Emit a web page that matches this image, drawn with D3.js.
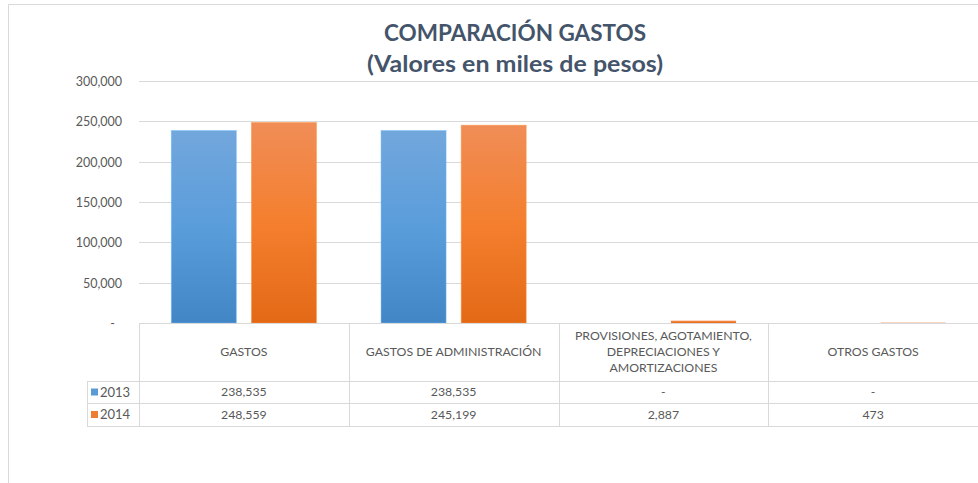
<!DOCTYPE html>
<html>
<head>
<meta charset="utf-8">
<script src="https://cdn.jsdelivr.net/npm/d3@7"></script>
<style>
  html, body { margin: 0; padding: 0; background: #fff; }
  svg { display: block; }
</style>
</head>
<body>
<svg id="chart" width="978" height="483"></svg>
<script>
// ---- data ----
const categories = [
  ["GASTOS"],
  ["GASTOS DE ADMINISTRACIÓN"],
  ["PROVISIONES, AGOTAMIENTO,", "DEPRECIACIONES Y", "AMORTIZACIONES"],
  ["OTROS GASTOS"]
];
const seriesNames = ["2013", "2014"];
const values2013 = [238535, 238535, 0, 0];
const values2014 = [248559, 245199, 2887, 473];
const yTicks = [0, 50000, 100000, 150000, 200000, 250000, 300000];
const titleLines = ["COMPARACIÓN GASTOS", "(Valores en miles de pesos)"];

const seriesValues = [values2013, values2014];
const fmt = d3.format(",");
const fmtCell = v => v === 0 ? "-" : fmt(v);

const svg = d3.select("#chart");
const font = "Lato, 'Open Sans', sans-serif";
const textColor = "#595959";
const gridColor = "#D9D9D9";

// gradients
const defs = svg.append("defs");
const grads = [
  { id: "g2013", stops: ["#72A7DC", "#5A9DDB", "#4286C6"] },
  { id: "g2014", stops: ["#F08D57", "#F47F2E", "#E36916"] }
];
grads.forEach(g => {
  const lg = defs.append("linearGradient").attr("id", g.id)
    .attr("x1", 0).attr("y1", 0).attr("x2", 0).attr("y2", 1);
  g.stops.forEach((c, i) => lg.append("stop").attr("offset", i / (g.stops.length - 1)).attr("stop-color", c));
});
const seriesColors = ["#5B9BD5", "#ED7D31"];

// chart frame
svg.append("path")
  .attr("d", "M8.5,483 L8.5,4.5 L978,4.5")
  .attr("fill", "none").attr("stroke", gridColor).attr("stroke-width", 1);

// layout
const plotLeft = 139, plotRight = 978, plotTop = 81, plotBottom = 323;
const x = d3.scaleBand().domain(d3.range(categories.length)).range([plotLeft, plotRight])
  .paddingInner(0).paddingOuter(0);
const bw = x.bandwidth();
const barW = bw * 0.31, barGap = bw * 0.072;
const groupW = 2 * barW + barGap;
const x1 = d3.scaleBand().domain(seriesNames)
  .range([(bw - groupW) / 2, (bw + groupW) / 2])
  .paddingInner(barGap / (barW + barGap)).paddingOuter(0);
const y = d3.scaleLinear().domain([0, 300000]).range([plotBottom, plotTop]);

// gridlines
svg.append("g").selectAll("line").data(yTicks.filter(t => t > 0)).join("line")
  .attr("x1", plotLeft).attr("x2", plotRight)
  .attr("y1", d => Math.round(y(d)) + 0.5).attr("y2", d => Math.round(y(d)) + 0.5)
  .attr("stroke", gridColor).attr("stroke-width", 1);

// y axis labels
const yAxis = d3.axisLeft(y).tickValues(yTicks).tickSize(0).tickPadding(0)
  .tickFormat(d => d === 0 ? "-" : fmt(d));
const gy = svg.append("g").attr("transform", `translate(${plotLeft - 17},0)`).call(yAxis);
gy.select(".domain").remove();
gy.selectAll("text").attr("font-family", font).attr("font-size", 12.5)
  .attr("fill", textColor).attr("dy", "0.35em")
  .attr("transform", d => d === 0 ? "translate(-7,0)" : null);

// bars
seriesNames.forEach((s, si) => {
  svg.append("g").selectAll("rect").data(seriesValues[si]).join("rect")
    .attr("x", (d, i) => x(i) + x1(s))
    .attr("width", x1.bandwidth())
    .attr("y", d => y(d))
    .attr("height", d => y(0) - y(d))
    .attr("fill", `url(#${grads[si].id})`)
    .attr("stroke", d => (y(0) - y(d)) > 3 ? d3.color(seriesColors[si]).brighter(0.5) : "none")
    .attr("stroke-opacity", 0.6)
    .attr("stroke-width", 0.8);
});

// data table
const headerBottom = 381, row1Bottom = 403, row2Bottom = 426;
const legendLeft = 87;
const tbl = svg.append("g").attr("stroke", gridColor).attr("stroke-width", 1).attr("fill", "none");
tbl.append("line").attr("x1", plotLeft).attr("x2", plotRight).attr("y1", plotBottom + 0.5).attr("y2", plotBottom + 0.5);
[headerBottom, row1Bottom, row2Bottom].forEach(yy => {
  tbl.append("line").attr("x1", legendLeft).attr("x2", plotRight).attr("y1", yy + 0.5).attr("y2", yy + 0.5);
});
tbl.append("line").attr("x1", legendLeft + 0.5).attr("x2", legendLeft + 0.5).attr("y1", headerBottom).attr("y2", row2Bottom);
d3.range(categories.length).forEach(i => {
  const xx = Math.round(x(i)) + 0.5;
  tbl.append("line").attr("x1", xx).attr("x2", xx).attr("y1", plotBottom).attr("y2", row2Bottom);
});

// header text
const hdr = svg.append("g").attr("font-family", font).attr("font-size", 12.3).attr("fill", textColor)
  .attr("text-anchor", "middle");
categories.forEach((lines, i) => {
  const cx = x(i) + bw / 2;
  const cy = (plotBottom + headerBottom) / 2;
  const lh = 16;
  lines.forEach((t, li) => {
    hdr.append("text").attr("x", cx).attr("y", cy + (li - (lines.length - 1) / 2) * lh)
      .attr("dy", "0.35em").text(t);
  });
});

// rows
const rowMids = [(headerBottom + row1Bottom) / 2, (row1Bottom + row2Bottom) / 2];
seriesNames.forEach((s, si) => {
  const g = svg.append("g").attr("font-family", font).attr("font-size", 12.3).attr("fill", textColor);
  g.append("rect").attr("x", legendLeft + 4).attr("y", rowMids[si] - 3.5).attr("width", 7).attr("height", 7)
    .attr("fill", seriesColors[si]);
  g.append("text").attr("x", legendLeft + 13).attr("y", rowMids[si]).attr("dy", "0.35em")
    .attr("font-size", 13).text(s);
  g.selectAll("text.v").data(seriesValues[si]).join("text").attr("class", "v")
    .attr("x", (d, i) => x(i) + bw / 2).attr("y", rowMids[si]).attr("dy", "0.35em")
    .attr("text-anchor", "middle").text(d => fmtCell(d));
});

// title
const titleWidths = [262, 296];
const tg = svg.append("g").attr("font-family", font).attr("font-weight", "bold").attr("font-size", 22.5)
  .attr("fill", "#44546A").attr("text-anchor", "middle");
titleLines.forEach((t, i) => {
  tg.append("text").attr("x", 515).attr("y", 33 + i * 31).attr("dy", "0.35em")
    .attr("textLength", titleWidths[i]).attr("lengthAdjust", "spacingAndGlyphs").text(t);
});
</script>
</body>
</html>
